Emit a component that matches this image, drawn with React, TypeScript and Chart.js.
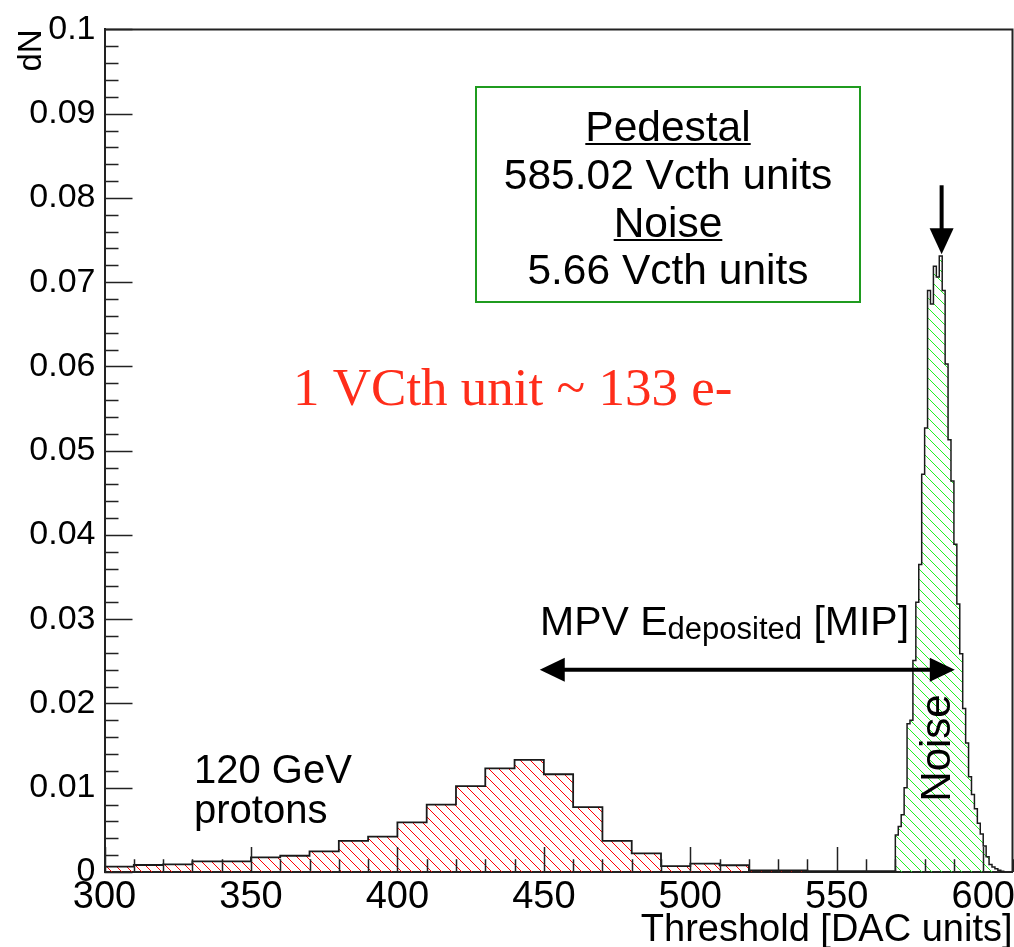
import React, { useEffect, useRef } from 'react';
import { Chart, registerables } from 'chart.js';

Chart.register(...registerables);

// ---- data ----
const X_TICKS = [300, 350, 400, 450, 500, 550, 600];
const Y_TICKS = [0, 0.01, 0.02, 0.03, 0.04, 0.05, 0.06, 0.07, 0.08, 0.09, 0.1];

// proton signal histogram, 10-unit bins (left edges)
const SIGNAL_BIN_WIDTH = 10;
const SIGNAL_BINS = [300, 310, 320, 330, 340, 350, 360, 370, 380, 390, 400, 410, 420, 430, 440, 450, 460, 470, 480, 490, 500, 510, 520, 530, 540, 550, 560];
const SIGNAL_VALUES = [0.00063, 0.00083, 0.00091, 0.00126, 0.00126, 0.00173, 0.00193, 0.00244, 0.0037, 0.0042, 0.0059, 0.008, 0.0102, 0.0123, 0.0133, 0.0116, 0.0077, 0.0037, 0.0022, 0.0007, 0.001, 0.0008, 0.0002, 0.0002, 0.0001, 0.0001, 0.0001];

// noise (pedestal) histogram, 1-unit bins (left edges)
const NOISE_BIN_WIDTH = 1;
const NOISE_BINS = [570, 571, 572, 573, 574, 575, 576, 577, 578, 579, 580, 581, 582, 583, 584, 585, 586, 587, 588, 589, 590, 591, 592, 593, 594, 595, 596, 597, 598, 599, 600, 601, 602, 603, 604, 605, 606];
const NOISE_VALUES = [0.0044, 0.0054, 0.0068, 0.01, 0.0176, 0.018, 0.0251, 0.032, 0.0365, 0.0472, 0.0527, 0.069, 0.0674, 0.0719, 0.0706, 0.0731, 0.069, 0.0603, 0.0513, 0.0464, 0.0389, 0.0318, 0.0259, 0.0194, 0.0153, 0.0113, 0.0092, 0.0075, 0.0058, 0.0045, 0.0031, 0.0018, 0.0009, 0.0006, 0.0004, 0.0002, 0.0001];

const PEDESTAL = 585.8;
const MPV_ARROW = [448.6, 590.3];
const MPV_ARROW_Y = 0.024;

const SANS = '"Liberation Sans", Arial, Helvetica, sans-serif';
const SERIF = '"Liberation Serif", "Times New Roman", serif';

function histPoints(lefts: number[], vals: number[], width: number) {
  const pts: { x: number; y: number }[] = [{ x: lefts[0], y: 0 }];
  lefts.forEach((l, i) => pts.push({ x: l, y: vals[i] }));
  pts.push({ x: lefts[lefts.length - 1] + width, y: 0 });
  return pts;
}

function hatch(color: string, spacing: number): CanvasPattern | string {
  const c = document.createElement('canvas');
  c.width = spacing;
  c.height = spacing;
  const g = c.getContext('2d');
  if (!g) return color;
  g.strokeStyle = color;
  g.lineWidth = 1;
  g.beginPath();
  g.moveTo(-1, -1);
  g.lineTo(spacing + 1, spacing + 1);
  g.moveTo(-1, spacing - 1);
  g.lineTo(1, spacing + 1);
  g.moveTo(spacing - 1, -1);
  g.lineTo(spacing + 1, 1);
  g.stroke();
  const p = g.createPattern(c, 'repeat');
  return p || color;
}

const insideTicks = {
  id: 'insideTicks',
  afterDatasetsDraw(chart: any) {
    const { ctx, chartArea, scales } = chart;
    const x = scales.x;
    const y = scales.y;
    ctx.save();
    ctx.strokeStyle = '#222';
    ctx.lineWidth = 1.5;
    ctx.beginPath();
    for (let v = 300; v <= 610; v += 10) {
      const px = Math.round(x.getPixelForValue(v)) + 0.5;
      const len = v % 50 === 0 ? 25 : 12.7;
      ctx.moveTo(px, chartArea.bottom);
      ctx.lineTo(px, chartArea.bottom - len);
    }
    for (let k = 0; k <= 50; k++) {
      const v = k * 0.002;
      const py = Math.round(y.getPixelForValue(v)) + 0.5;
      const len = k % 5 === 0 ? 28 : 14;
      ctx.moveTo(chartArea.left, py);
      ctx.lineTo(chartArea.left + len, py);
    }
    ctx.stroke();
    // frame (top and right)
    ctx.lineWidth = 2;
    ctx.beginPath();
    ctx.moveTo(chartArea.left, chartArea.top);
    ctx.lineTo(chartArea.right, chartArea.top);
    ctx.lineTo(chartArea.right, chartArea.bottom);
    ctx.stroke();
    ctx.restore();
  },
};

function arrowHead(ctx: CanvasRenderingContext2D, tipX: number, tipY: number, dx: number, dy: number, len: number, half: number) {
  const bx = tipX - dx * len;
  const by = tipY - dy * len;
  ctx.beginPath();
  ctx.moveTo(tipX, tipY);
  ctx.lineTo(bx - dy * half, by + dx * half);
  ctx.lineTo(bx + dy * half, by - dx * half);
  ctx.closePath();
  ctx.fill();
}

const annotations = {
  id: 'annotations',
  afterDraw(chart: any) {
    const { ctx, scales } = chart;
    const x = scales.x;
    const y = scales.y;
    ctx.save();

    // info box
    ctx.strokeStyle = '#1f9b1f';
    ctx.lineWidth = 2;
    ctx.strokeRect(476, 87, 384, 215);
    ctx.fillStyle = '#000';
    ctx.textAlign = 'center';
    ctx.textBaseline = 'alphabetic';
    ctx.font = `42.5px ${SANS}`;
    const cx = 668;
    const lines: [string, number, boolean][] = [
      ['Pedestal', 141, true],
      ['585.02 Vcth units', 189, false],
      ['Noise', 237, true],
      ['5.66 Vcth units', 284, false],
    ];
    lines.forEach(([t, by, ul]) => {
      ctx.fillText(t, cx, by);
      if (ul) {
        const w = ctx.measureText(t).width;
        ctx.fillRect(cx - w / 2, by + 2, w, 2);
      }
    });

    // red conversion text
    ctx.textAlign = 'left';
    ctx.fillStyle = '#ff2d1a';
    ctx.font = `53px ${SERIF}`;
    ctx.fillText('1 VCth unit ~ 133 e-', 293, 405);

    // pedestal arrow
    ctx.fillStyle = '#000';
    ctx.strokeStyle = '#000';
    const ax = x.getPixelForValue(PEDESTAL);
    const aTop = y.getPixelForValue(0.0815);
    const aTip = y.getPixelForValue(0.0733);
    ctx.lineWidth = 4;
    ctx.beginPath();
    ctx.moveTo(ax, aTop);
    ctx.lineTo(ax, aTip - 20);
    ctx.stroke();
    arrowHead(ctx, ax, aTip, 0, 1, 26, 12);

    // MPV double arrow
    const mx1 = x.getPixelForValue(MPV_ARROW[0]);
    const mx2 = x.getPixelForValue(MPV_ARROW[1]);
    const my = y.getPixelForValue(MPV_ARROW_Y);
    ctx.beginPath();
    ctx.moveTo(mx1 + 20, my);
    ctx.lineTo(mx2 - 20, my);
    ctx.stroke();
    arrowHead(ctx, mx1, my, -1, 0, 25, 12);
    arrowHead(ctx, mx2, my, 1, 0, 25, 12);

    // MPV label with subscript
    let tx = 540;
    ctx.font = `41px ${SANS}`;
    ctx.fillText('MPV E', tx, 635);
    tx += ctx.measureText('MPV E').width;
    ctx.font = `31px ${SANS}`;
    ctx.fillText('deposited', tx, 639);
    tx += ctx.measureText('deposited').width;
    ctx.font = `41px ${SANS}`;
    ctx.fillText(' [MIP]', tx, 635);

    // protons label
    ctx.font = `40px ${SANS}`;
    ctx.fillText('120 GeV', 194, 783);
    ctx.fillText('protons', 194, 823);

    // rotated Noise label
    ctx.save();
    ctx.translate(950, 748);
    ctx.rotate(-Math.PI / 2);
    ctx.textAlign = 'center';
    ctx.font = `42px ${SANS}`;
    ctx.fillText('Noise', 0, 0);
    ctx.restore();

    ctx.restore();
  },
};

export default function App() {
  const ref = useRef<HTMLCanvasElement | null>(null);

  useEffect(() => {
    if (!ref.current) return;
    const chart = new Chart(ref.current, {
      type: 'line',
      data: {
        datasets: [
          {
            label: '120 GeV protons',
            data: histPoints(SIGNAL_BINS, SIGNAL_VALUES, SIGNAL_BIN_WIDTH),
            stepped: true,
            borderColor: '#1a1a1a',
            borderWidth: 1.8,
            backgroundColor: hatch('#ff0000', 10) as any,
            fill: 'origin',
            pointRadius: 0,
          },
          {
            label: 'Noise',
            data: histPoints(NOISE_BINS, NOISE_VALUES, NOISE_BIN_WIDTH),
            stepped: true,
            borderColor: '#1a1a1a',
            borderWidth: 1.5,
            backgroundColor: hatch('#22ee22', 10) as any,
            fill: 'origin',
            pointRadius: 0,
          },
        ],
      },
      options: {
        animation: false,
        responsive: false,
        devicePixelRatio: 1,
        layout: { padding: { top: 25, right: 1.5, left: 0, bottom: 0 } },
        plugins: { legend: { display: false }, tooltip: { enabled: false } },
        elements: { line: { tension: 0 }, point: { radius: 0 } },
        scales: {
          x: {
            type: 'linear',
            min: 300,
            max: 610,
            grid: { display: false, drawTicks: false },
            border: { display: true, color: '#222', width: 2 },
            ticks: {
              font: { size: 38, family: SANS },
              color: '#000',
              padding: 3,
              maxRotation: 0,
              autoSkip: false,
            },
            afterBuildTicks: (s: any) => {
              s.ticks = X_TICKS.map((v) => ({ value: v }));
            },
            afterFit: (s: any) => {
              s.height = 75;
              s.paddingLeft = 0;
              s.paddingRight = 0;
            },
            title: {
              display: true,
              text: 'Threshold [DAC units]',
              align: 'end',
              color: '#000',
              font: { size: 38, family: SANS, lineHeight: 0.8 },
              padding: { top: 0, bottom: 1 },
            },
          },
          y: {
            type: 'linear',
            min: 0,
            max: 0.1,
            grid: { display: false, drawTicks: false },
            border: { display: true, color: '#222', width: 2 },
            ticks: {
              font: { size: 34, family: SANS },
              color: '#000',
              padding: 9,
              autoSkip: false,
              callback: (v: any) => String(+Number(v).toFixed(2)),
            },
            afterBuildTicks: (s: any) => {
              s.ticks = Y_TICKS.map((v) => ({ value: v }));
            },
            afterFit: (s: any) => {
              s.width = 104.5;
            },
            title: {
              display: true,
              text: 'dN',
              align: 'end',
              color: '#000',
              font: { size: 33, family: SANS, lineHeight: 1.2 },
              padding: { top: 12, bottom: 0 },
            },
          },
        },
      },
      plugins: [insideTicks, annotations],
    });
    return () => chart.destroy();
  }, []);

  return (
    <div style={{ position: 'absolute', left: 0, top: 0, width: 1014, height: 947, background: '#fff' }}>
      <canvas ref={ref} width={1014} height={947} style={{ display: 'block', width: 1014, height: 947 }} />
    </div>
  );
}
